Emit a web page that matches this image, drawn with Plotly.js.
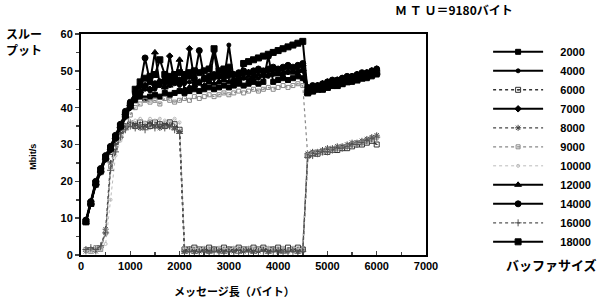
<!DOCTYPE html>
<html><head><meta charset="utf-8">
<script src="https://cdn.plot.ly/plotly-3.0.1.min.js"></script>
<style>body{margin:0;background:#fff}#c{width:600px;height:301px}</style>
</head><body><div id="c"></div>
<script>
const msgLen = [100,200,300,400,500,600,700,800,900,1000,1100,1200,1300,1400,1500,1600,1700,1800,1900,2000,
2100,2200,2300,2400,2500,2600,2700,2800,2900,3000,3100,3200,3300,3400,3500,3600,3700,3800,3900,4000,
4100,4200,4300,4400,4500,4600,4700,4800,4900,5000,5100,5200,5300,5400,5500,5600,5700,5800,5900,6000];

const bufferSizes = ["2000","4000","6000","7000","8000","9000","10000","12000","14000","16000","18000"];

const s2000 = [9,14,19.5,23,26.5,29,32,35,38,40.5, 42,43,42.5,43,43.5,43,44,43.5,44,44.5,
44,44.5,45,44.5,45,45.5,45,45.5,46,45.5, 46,46.5,46,46.5,47,46.5,47,54,47,47.5,
48,47.5,48,48.5,48,44,44.5,45,45,45.5, 46,46,46.5,47,47,47.5,48,48,48.5,49];
const s4000 = [9,14.5,19.5,23.5,27,29.5,32.5,35.5,38.5,41, 43,44,45,44.5,45,46,45.5,46,46.5,46,
46.5,47,46.5,47,47.5,47,55,47,47.5,57, 47.5,48,48,47.5,48.5,48,49,48.5,49,49.5,
49,49.5,50,49.5,50,44.5,45,45.5,46,46, 46.5,47,47,47.5,48,48,48.5,49,49.5,50];
const s6000 = [9,14,19,22.5,26,28,31,34,35,35.5, 35,36,35.5,35,36,35.5,35,36,35.5,34,
1.5,1.5,2,1.5,1.5,2,1.5,1.5,2,1.5, 1.5,2,1.5,1.5,2,1.5,2,1.5,1.5,2,
1.5,2,1.5,2,1.5,27,27.5,27.5,28,28, 28.5,28.5,29,29,29.5,30,30,30.5,31,30];
const s7000 = [9,14,19,22.5,26,28.5,31.5,34.5,37.5,40, 42.5,44,46,45,46,47,46.5,54,47,46.5,
47,56,47.5,47,48,47.5,48,48.5,48,48.5, 49,48.5,49,49.5,49,50,49.5,50,50.5,50,
50.5,51,50.5,51,51.5,45,45.5,46,46.5,47, 47,47.5,48,48,48.5,49,49,49.5,50,50.5];
const s8000 = [1,1.5,1,2,7,25,30,33,35,36, 35.5,34.5,35,36,35,34.5,35.5,35,34.5,33.5,
1,1.5,1,1,1.5,1,1.5,1,1,1.5, 1,1.5,1,1.5,1,1,1.5,1,1.5,1,
1.5,1,1.5,1,1.5,27.5,28,28,28.5,29, 29,29.5,29.5,30,30.5,30.5,31,31.5,32,32.5];
const s9000 = [1.5,1,2,1.5,6,24,29,32,35,38, 40,41,42,41.5,42,41,42.5,42,41.5,42,
42.5,42,43,42.5,43,43.5,43,43.5,44,43.5, 44,44.5,44,44.5,45,44.5,45,45.5,45,45.5,
46,45.5,46,46.5,46,27,27.5,28,28,28.5, 28.5,29,29.5,29.5,30,30.5,30.5,31,31.5,32];
const s10000 = [1,1.5,1,1.5,3,15,27,31,34,36, 36.5,37,36,37,36.5,37,36.5,36,37,36,
2,1.5,2,1.5,2,2,1.5,2,2,1.5, 2,2,1.5,2,2,1.5,2,2,1.5,2,
2,1.5,2,2,1.5,26.5,27,27.5,27.5,28, 28.5,28.5,29,29.5,29.5,30,30.5,30.5,31,31.5];
const s12000 = [9,14,19.5,23,26.5,29,32,35,38.5,41, 43,44.5,46,47,55,46,45.5,46,47,53,
45,45.5,46,46.5,46,47,46.5,47,47.5,47, 47.5,48,48,48.5,48,49,48.5,49,49.5,49,
49.5,50,49.5,50,50.5,44,44.5,45,45.5,46, 46.5,46.5,47,47.5,47.5,48,48.5,48.5,49,49.5];
const s14000 = [9.5,14.5,20,23.5,27,29.5,32.5,35.5,39,41.5, 44,46,53.5,47,46.5,47,47.5,47,48,47.5,
48,48.5,48,55.5,48,48.5,49,48.5,49,49.5, 49,49.5,50,49.5,50,50.5,50,50.5,51,50.5,
51,51.5,51,51.5,52,45.5,46,46,46.5,47, 47.5,47.5,48,48.5,48.5,49,49.5,49.5,50,50.5];
const s16000 = [1.5,2,1.5,2.5,6,23,28,32,34,35, 34.5,35,34,35,34.5,35.5,34.5,35,34,33,
0.5,1,0.5,1,1,0.5,1,1,0.5,1, 1,0.5,1,1,0.5,1,1,0.5,1,1,
0.5,1,1,0.5,1,26.5,27,27.5,28,28, 28.5,29,29,29.5,30,30,30.5,31,31.5,32];
const s18000 = [9,14,19.5,23,26.5,29,32,35,38,40.5, 45,47,48,48.5,49,53,49,48.5,49,49.5,
49,49.5,50,49.5,50,50.5,56,50,50.5,51, 47,47.5,52,52.5,53,53.5,54,54.5,55,55.5,
56,56.5,57,57.5,58,44,44.5,45,45,45.5, 46,46,46.5,47,47.5,47.5,48,48.5,49,49.5];

const seriesValues = [s2000,s4000,s6000,s7000,s8000,s9000,s10000,s12000,s14000,s16000,s18000];

const styles = [
  {c:'#000', dash:'solid', w:2, sym:'square', ms:5},
  {c:'#000', dash:'solid', w:2, sym:'circle', ms:4},
  {c:'#333', dash:'dot', w:1.5, sym:'square-open-dot', ms:5},
  {c:'#000', dash:'solid', w:2, sym:'diamond', ms:5},
  {c:'#444', dash:'dot', w:1.3, sym:'asterisk-open', ms:5},
  {c:'#888', dash:'dot', w:1.2, sym:'square-open', ms:4},
  {c:'#bbb', dash:'dot', w:1, sym:'circle-open', ms:3},
  {c:'#000', dash:'solid', w:2, sym:'triangle-up', ms:6},
  {c:'#000', dash:'solid', w:2, sym:'circle', ms:6},
  {c:'#555', dash:'dot', w:1.3, sym:'cross-thin-open', ms:5},
  {c:'#000', dash:'solid', w:2, sym:'square', ms:6}
];

const traces = bufferSizes.map((name,i)=>({
  type:'scatter', mode:'lines+markers', name:'\u00a0\u00a0\u00a0\u00a0' + name,
  x:msgLen, y:seriesValues[i],
  line:{color:styles[i].c, dash:styles[i].dash, width:styles[i].w},
  marker:{symbol:styles[i].sym, size:styles[i].ms, color:styles[i].c, line:{color:styles[i].c, width:1}}
}));

const tf = {family:'Liberation Sans, Arial, sans-serif', size:11, color:'#000', weight:'bold'};
const jf = {family:'Noto Sans CJK JP, sans-serif', size:11, color:'#000', weight:'bold'};

const layout = {
  width:600, height:301,
  margin:{l:81, r:174, t:34, b:46, autoexpand:false},
  paper_bgcolor:'#fff', plot_bgcolor:'#fff',
  showlegend:true,
  legend:{x:1.18, y:0.985, xanchor:'left', yanchor:'top', font:tf, bgcolor:'rgba(0,0,0,0)', itemwidth:50, tracegroupgap:0},
  xaxis:{range:[0,7000], dtick:1000, tick0:0, ticks:'inside', ticklen:4, tickwidth:1.5,
    minor:{dtick:500, ticks:'inside', ticklen:3},
    showline:true, linewidth:2, linecolor:'#000', mirror:true, showgrid:false, zeroline:false, tickfont:tf},
  yaxis:{range:[0,60], dtick:10, tick0:0, ticks:'outside', ticklen:4, tickwidth:1.5,
    minor:{dtick:5, ticks:'outside', ticklen:3},
    showline:true, linewidth:2, linecolor:'#000', mirror:true, showgrid:false, zeroline:false, tickfont:tf},
  annotations:[
    {text:'Ｍ Ｔ Ｕ＝9180バイト', xref:'paper', yref:'paper', x:1.081, y:1.109, xanchor:'center', yanchor:'middle', showarrow:false, font:{...jf, size:12}},
    {text:'スルー<br>プット', xref:'paper', yref:'paper', x:-0.222, y:0.968, xanchor:'left', yanchor:'middle', align:'left', showarrow:false, font:{...jf, size:12}},
    {text:'Mbit/s', xref:'paper', yref:'paper', x:-0.139, y:0.445, xanchor:'center', yanchor:'middle', textangle:-90, showarrow:false, font:{...tf, size:9}},
    {text:'メッセージ長（バイト）', xref:'paper', yref:'paper', x:0.445, y:-0.164, xanchor:'center', yanchor:'middle', showarrow:false, font:jf},
    {text:'バッファサイズ', xref:'paper', yref:'paper', x:1.365, y:-0.045, xanchor:'center', yanchor:'middle', showarrow:false, font:{...jf, size:13}}
  ]
};

Plotly.newPlot('c', traces, layout, {staticPlot:true, displayModeBar:false});
</script></body></html>
